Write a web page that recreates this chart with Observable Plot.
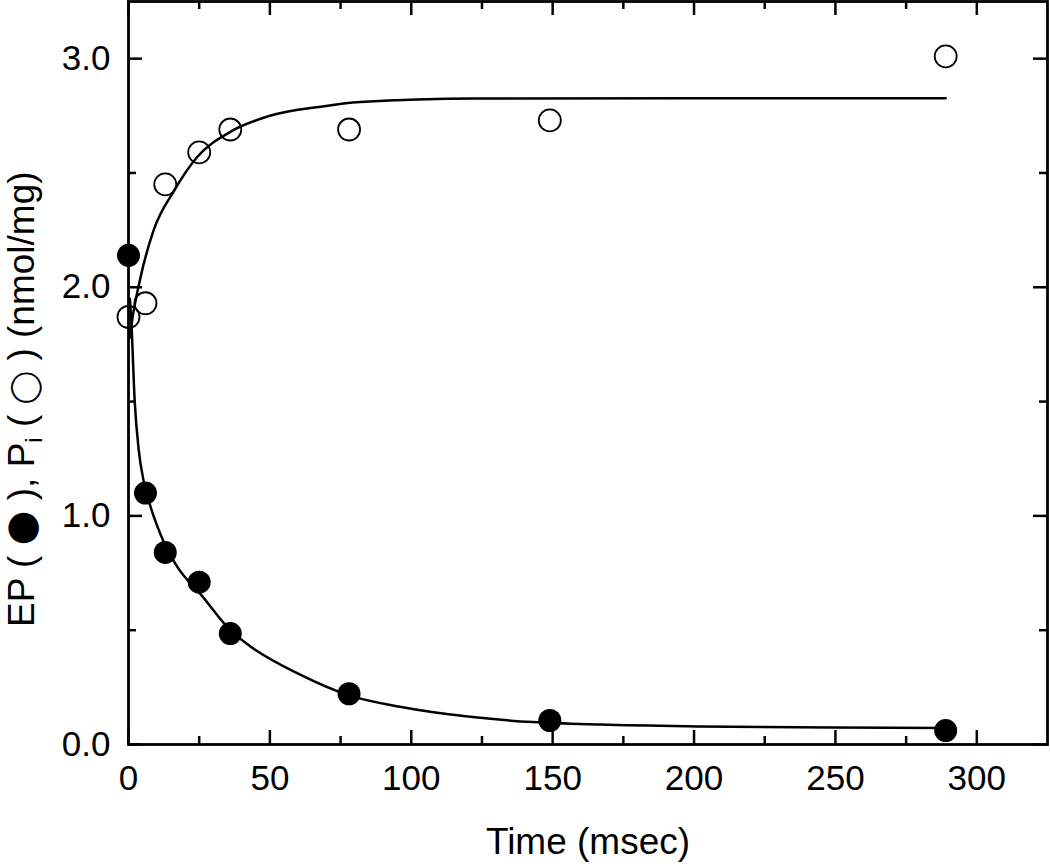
<!DOCTYPE html>
<html><head><meta charset="utf-8">
<script src="https://cdn.jsdelivr.net/npm/d3@7"></script>
<script src="https://cdn.jsdelivr.net/npm/@observablehq/plot@0.6"></script>
<style>body{margin:0;background:#fff} svg{display:block}</style>
</head><body><div id="chart"></div>
<script>
// Measured data points
const timePts = [0, 6, 13, 25, 36, 78, 149, 289];
const epVals = [2.14, 1.10, 0.84, 0.71, 0.485, 0.222, 0.105, 0.061];
const piVals = [1.87, 1.93, 2.45, 2.59, 2.69, 2.69, 2.73, 3.01];

// Fitted curves
const fitTimeEP = [0.5, 1, 2.2, 3.6, 5.4, 7.8, 11.3, 16.6, 26, 36, 43, 60, 78, 96, 120, 143, 167, 202, 249, 289];
const fitEP     = [1.95, 1.85, 1.50, 1.29, 1.15, 1.04, 0.92, 0.79, 0.65, 0.50, 0.43, 0.31, 0.215, 0.165, 0.122, 0.098, 0.087, 0.079, 0.074, 0.072];
const fitTimePi = [0.5, 1, 4.2, 8.9, 16, 24.3, 36, 50, 68, 82, 123, 200, 289];
const fitPi     = [1.78, 1.83, 2.04, 2.25, 2.42, 2.57, 2.68, 2.75, 2.79, 2.81, 2.826, 2.827, 2.827];

// Ticks
const xMajor = [0, 50, 100, 150, 200, 250, 300];
const xMinor = [25, 75, 125, 175, 225, 275];
const yMajor = [0, 1, 2, 3];
const yMinor = [0.5, 1.5, 2.5];

const ep = timePts.map((t, i) => ({t, v: epVals[i]}));
const pi = timePts.map((t, i) => ({t, v: piVals[i]}));
const fEP = fitTimeEP.map((t, i) => ({t, v: fitEP[i]}));
const fPi = fitTimePi.map((t, i) => ({t, v: fitPi[i]}));

const W = 1050, H = 864, mL = 128, mR = 3, mT = 1, mB = 120;
const fw = W - mL - mR, fh = H - mT - mB;
const big = 14, small = 8, tw = 2.5;

const chart = Plot.plot({
  width: W, height: H,
  marginLeft: mL, marginRight: mR, marginTop: mT, marginBottom: mB,
  style: {fontFamily: "'Liberation Sans', Arial, sans-serif", color: "black", background: "white"},
  x: {domain: [0, 325]},
  y: {domain: [0, 3.25]},
  marks: [
    Plot.axisX(xMajor, {tickSize: 0, tickPadding: 21, fontSize: 35, tickFormat: d => String(d), label: null}),
    Plot.axisY(yMajor, {tickSize: 0, tickPadding: 18, fontSize: 35, tickFormat: d => d.toFixed(1), label: null}),
    // inward ticks on all four sides
    Plot.tickX(xMajor, {x: d => d, insetTop: fh - big, stroke: "black", strokeWidth: tw}),
    Plot.tickX(xMinor, {x: d => d, insetTop: fh - small, stroke: "black", strokeWidth: tw}),
    Plot.tickX(xMajor, {x: d => d, insetBottom: fh - big, stroke: "black", strokeWidth: tw}),
    Plot.tickX(xMinor, {x: d => d, insetBottom: fh - small, stroke: "black", strokeWidth: tw}),
    Plot.tickY(yMajor, {y: d => d, insetRight: fw - big, stroke: "black", strokeWidth: tw}),
    Plot.tickY(yMinor, {y: d => d, insetRight: fw - small, stroke: "black", strokeWidth: tw}),
    Plot.tickY(yMajor, {y: d => d, insetLeft: fw - big, stroke: "black", strokeWidth: tw}),
    Plot.tickY(yMinor, {y: d => d, insetLeft: fw - small, stroke: "black", strokeWidth: tw}),
    Plot.frame({stroke: "black", strokeWidth: 2.8}),
    Plot.line(fPi, {x: "t", y: "v", curve: "monotone-x", stroke: "black", strokeWidth: 2.5}),
    Plot.line(fEP, {x: "t", y: "v", curve: "monotone-x", stroke: "black", strokeWidth: 2.5}),
    Plot.dot(pi, {x: "t", y: "v", r: 11, stroke: "black", strokeWidth: 1.8, fill: "none"}),
    Plot.dot(ep, {x: "t", y: "v", r: 11.5, fill: "black", stroke: "none"})
  ]
});

const svg = d3.select(chart);
svg.append("text")
  .attr("x", 588).attr("y", 854)
  .attr("text-anchor", "middle")
  .attr("font-size", 37)
  .attr("fill", "black")
  .text("Time (msec)");

const yl = svg.append("text")
  .attr("transform", "translate(34,627) rotate(-90)")
  .attr("text-anchor", "start")
  .attr("font-size", 37)
  .attr("fill", "black");
yl.append("tspan").text("EP ( ");
yl.append("tspan").attr("font-family", "'DejaVu Sans'").attr("font-size", 40).text("\u25CF");
yl.append("tspan").text(" ), P");
yl.append("tspan").attr("font-size", 24).attr("dy", 8).text("i");
yl.append("tspan").attr("dy", -8).text(" ( ");
yl.append("tspan").attr("font-family", "'DejaVu Sans'").attr("font-size", 30).text("\u25EF");
yl.append("tspan").text(" ) (nmol/mg)");

document.getElementById("chart").appendChild(chart);
</script>
</body></html>
